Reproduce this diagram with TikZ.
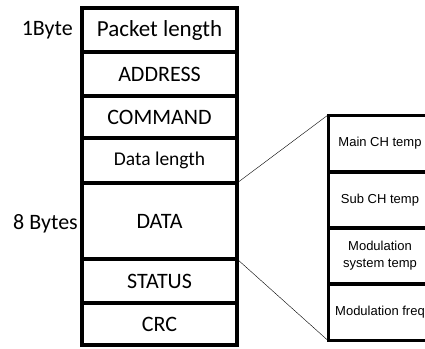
\documentclass[tikz,border=0pt]{standalone}
\usepackage{fontspec}
\setmainfont{Carlito}
\newfontfamily\arialfont{Liberation Sans}
\tikzset{
  field/.style={draw, line width=3.5pt, minimum width=155pt, inner sep=0pt, outer sep=0pt, font=\fontsize{22}{26}\selectfont},
  subfield/.style={draw, line width=3pt, minimum width=104pt, minimum height=57pt, inner sep=0pt, outer sep=0pt, align=center, font=\arialfont\fontsize{13}{17}\selectfont},
  sizelabel/.style={anchor=east, inner sep=0pt, font=\fontsize{22}{26}\selectfont}
}
\begin{document}
\begin{tikzpicture}[x=1pt,y=-1pt]
\useasboundingbox (0,0) rectangle (425,348);
\clip (0,0) rectangle (425,348);
% packet frame
\node [field, minimum height=44pt, font=\fontsize{23}{27}\selectfont] (plen) at (159.5,30) {Packet length};
\node [field, minimum height=44pt] (addr) at (159.5,74) {ADDRESS};
\node [field, minimum height=42pt] (cmd) at (159.5,117) {COMMAND};
\node [field, minimum height=45pt, font=\fontsize{19.5}{23}\selectfont] (dlen) at (159.5,160.5) {Data length};
\node [field, minimum height=76pt] (data) at (159.5,221) {DATA};
\node [field, minimum height=44pt] (stat) at (159.5,281) {STATUS};
\node [field, minimum height=42pt] (crc) at (159.5,324) {CRC};
\node [sizelabel] (onebyte) at (73,30) {1Byte};
\node [sizelabel] (eightbytes) at (78,224) {8 Bytes};
% contents of DATA
\node [subfield] (mainch) at (380,143.5) {Main CH temp};
\node [subfield] (subch) at (380,200) {Sub CH temp};
\node [subfield] (modsys) at (380,255.5) {Modulation\\system temp};
\node [subfield] (modfreq) at (380,312) {Modulation freq};
\draw [thin] (dlen.south east) -- (mainch.north west);
\draw [thin] (data.south east) -- (modfreq.south west);
\end{tikzpicture}
\end{document}
